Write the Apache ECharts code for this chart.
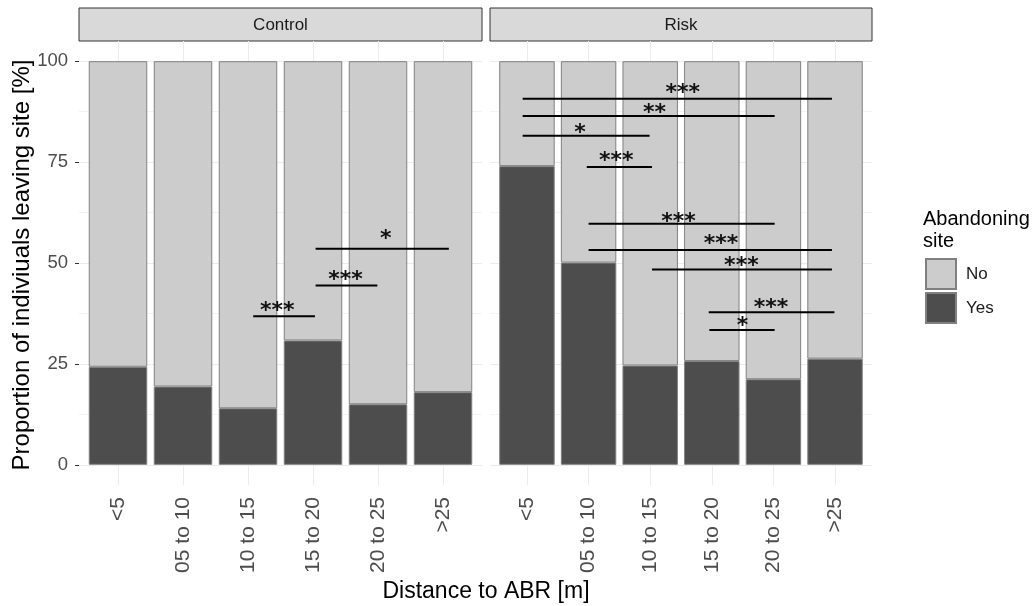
<!DOCTYPE html>
<html>
<head>
<meta charset="utf-8">
<script src="https://cdn.jsdelivr.net/npm/echarts@6/dist/echarts.min.js"></script>
<style>
html, body { margin: 0; padding: 0; background: #fff; }
#main { width: 1032px; height: 606px; }
</style>
</head>
<body>
<div id="main"></div>
<script>
// distance classes
var categories = ['<5', '05 to 10', '10 to 15', '15 to 20', '20 to 25', '>25'];

// percent of individuals, per panel
var controlYes = [24.3, 19.4, 14.0, 30.8, 15.0, 18.0];
var controlNo = [75.7, 80.6, 86.0, 69.2, 85.0, 82.0];
var riskYes = [74.0, 50.1, 24.6, 25.7, 21.2, 26.3];
var riskNo = [26.0, 49.9, 75.4, 74.3, 78.8, 73.7];

// significance bars: [from, to, y, label x, label y] in category units / percent
var controlSig = [
  [3.08, 4.03, 36.8, 3.45, 39.2],
  [4.04, 4.99, 44.4, 4.50, 46.8],
  [4.04, 6.09, 53.5, 5.12, 57.0]
];
var controlSigLabels = ['***', '***', '*'];

var riskSig = [
  [0.93, 5.95, 90.7, 3.53, 93.2],
  [0.93, 5.02, 86.4, 3.07, 88.1],
  [0.93, 2.99, 81.5, 1.86, 83.3],
  [1.97, 3.03, 73.8, 2.45, 76.2],
  [2.00, 5.02, 59.7, 3.46, 61.2],
  [2.00, 5.95, 53.2, 4.15, 55.8],
  [3.03, 5.95, 48.4, 4.48, 50.3],
  [3.95, 5.99, 37.8, 4.96, 39.8],
  [3.96, 5.02, 33.4, 4.50, 35.5]
];
var riskSigLabels = ['***', '**', '*', '***', '***', '***', '***', '***', '*'];

var FONT = '"Liberation Sans", Arial, sans-serif';
var colNo = '#cccccc';
var colYes = '#4d4d4d';

// panel geometry (ggplot style: 0.6 band padding each side)
var panelTop = 41, panelH = 444;
var innerTop = 61, innerH = 404;
var leftX = 79, leftW = 403;
var rightX = 490, rightW = 382;
var bandL = leftW / 6.2, bandR = rightW / 6.2;

function sigRenderer(labels) {
  return function (params, api) {
    var p1 = api.coord([api.value(0), api.value(2)]);
    var p2 = api.coord([api.value(1), api.value(2)]);
    var t = api.coord([api.value(3), api.value(4)]);
    return {
      type: 'group',
      children: [{
        type: 'line',
        shape: { x1: p1[0], y1: p1[1], x2: p2[0], y2: p2[1] },
        style: { stroke: '#000', lineWidth: 2 }
      }, {
        type: 'text',
        x: t[0],
        y: t[1] + 4.5,
        style: {
          text: labels[params.dataIndex],
          fill: '#111',
          font: 'bold 22px "DejaVu Sans"',
          align: 'center',
          verticalAlign: 'middle'
        }
      }]
    };
  };
}

var bgY = function (showLabels) {
  return {
    type: 'value',
    min: 0, max: 100, interval: 25,
    axisLine: { show: false },
    axisTick: { show: showLabels, length: 4, lineStyle: { color: '#333' } },
    axisLabel: { show: showLabels, margin: 11, fontSize: 18.5, color: '#4d4d4d', fontFamily: FONT },
    splitLine: { lineStyle: { color: '#ebebeb', width: 1 } },
    minorTick: { show: false, splitNumber: 2 },
    minorSplitLine: { show: true, lineStyle: { color: '#f3f3f3', width: 1 } }
  };
};

var catX = function (gi) {
  return {
    type: 'category', gridIndex: gi, data: categories,
    axisLine: { show: false },
    axisTick: { show: false, alignWithLabel: true },
    axisLabel: { interval: 0, rotate: 90, margin: 12, fontSize: 21, color: '#4d4d4d', fontFamily: FONT },
    splitLine: { show: true, alignWithLabel: true, lineStyle: { color: '#ebebeb', width: 1 } }
  };
};

var chart = echarts.init(document.getElementById('main'), null, { renderer: 'canvas' });

var option = {
  backgroundColor: '#fff',
  animation: false,
  grid: [
    { left: leftX, top: innerTop, width: leftW, height: innerH },
    { left: leftX + 0.1 * bandL, top: panelTop, width: 6 * bandL, height: panelH },
    { left: rightX, top: innerTop, width: rightW, height: innerH },
    { left: rightX + 0.1 * bandR, top: panelTop, width: 6 * bandR, height: panelH }
  ],
  xAxis: [
    { type: 'value', gridIndex: 0, show: false },
    catX(1),
    { type: 'value', gridIndex: 1, min: 0.5, max: 6.5, show: false },
    { type: 'value', gridIndex: 2, show: false },
    catX(3),
    { type: 'value', gridIndex: 3, min: 0.5, max: 6.5, show: false }
  ],
  yAxis: [
    Object.assign(bgY(true), { gridIndex: 0 }),
    { type: 'value', gridIndex: 1, min: -5, max: 105, show: false },
    Object.assign(bgY(false), { gridIndex: 2 }),
    { type: 'value', gridIndex: 3, min: -5, max: 105, show: false }
  ],
  legend: {
    data: ['No', 'Yes'],
    orient: 'vertical',
    left: 925, top: 258,
    padding: 0,
    itemWidth: 30, itemHeight: 30, itemGap: 2,
    icon: 'rect',
    selectedMode: false,
    textStyle: { fontSize: 17, color: '#1a1a1a', fontFamily: FONT, padding: [0, 0, 0, 5] }
  },
  graphic: [
    { type: 'rect', shape: { x: leftX, y: 8, width: leftW, height: 33 }, style: { fill: '#d9d9d9', stroke: '#333', lineWidth: 1 } },
    { type: 'text', x: leftX + leftW / 2, y: 25, style: { text: 'Control', font: '17px ' + FONT, fill: '#1a1a1a', align: 'center', verticalAlign: 'middle' } },
    { type: 'rect', shape: { x: rightX, y: 8, width: rightW, height: 33 }, style: { fill: '#d9d9d9', stroke: '#333', lineWidth: 1 } },
    { type: 'text', x: rightX + rightW / 2, y: 25, style: { text: 'Risk', font: '17px ' + FONT, fill: '#1a1a1a', align: 'center', verticalAlign: 'middle' } },
    { type: 'text', x: 486, y: 592, style: { text: 'Distance to ABR [m]', font: '23px ' + FONT, fill: '#000', align: 'center', verticalAlign: 'middle' } },
    { type: 'text', x: 22, y: 265, rotation: Math.PI / 2, style: { text: 'Proportion of indiviuals leaving site [%]', font: '24px ' + FONT, fill: '#000', align: 'center', verticalAlign: 'middle' } },
    { type: 'text', x: 923, y: 208, style: { text: 'Abandoning\nsite', font: '20px ' + FONT, lineHeight: 22, fill: '#000', align: 'left', verticalAlign: 'top' } }
  ],
  series: [
    { name: 'Yes', type: 'bar', stack: 'c', xAxisIndex: 1, yAxisIndex: 1, barWidth: '90%', data: controlYes,
      itemStyle: { color: colYes, borderColor: '#808080', borderWidth: 1 } },
    { name: 'No', type: 'bar', stack: 'c', xAxisIndex: 1, yAxisIndex: 1, barWidth: '90%', data: controlNo,
      itemStyle: { color: colNo, borderColor: '#808080', borderWidth: 1 } },
    { name: 'Yes', type: 'bar', stack: 'r', xAxisIndex: 4, yAxisIndex: 3, barWidth: '90%', data: riskYes,
      itemStyle: { color: colYes, borderColor: '#808080', borderWidth: 1 } },
    { name: 'No', type: 'bar', stack: 'r', xAxisIndex: 4, yAxisIndex: 3, barWidth: '90%', data: riskNo,
      itemStyle: { color: colNo, borderColor: '#808080', borderWidth: 1 } },
    { type: 'custom', xAxisIndex: 2, yAxisIndex: 1, renderItem: sigRenderer(controlSigLabels),
      encode: { x: [0, 1, 3], y: [2, 4] }, data: controlSig, silent: true, z: 5 },
    { type: 'custom', xAxisIndex: 5, yAxisIndex: 3, renderItem: sigRenderer(riskSigLabels),
      encode: { x: [0, 1, 3], y: [2, 4] }, data: riskSig, silent: true, z: 5 }
  ]
};

chart.setOption(option);
</script>
</body>
</html>
